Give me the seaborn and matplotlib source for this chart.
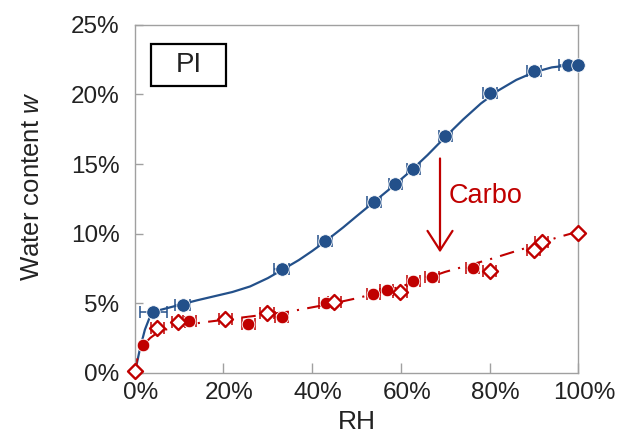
import numpy as np
import seaborn as sns
import matplotlib
matplotlib.use("Agg")
import matplotlib.pyplot as plt
import matplotlib.transforms as mtrans
from matplotlib.patches import Rectangle
from matplotlib.ticker import PercentFormatter

# measured points, PI (blue) and Carbo (red), RH and w in %
pi_rh = [4.2, 10.8, 33.1, 42.9, 53.9, 58.7, 62.8, 70.0, 80.0, 90.0, 97.7, 99.8]
pi_w = [4.35, 4.87, 7.42, 9.5, 12.25, 13.6, 14.65, 17.05, 20.1, 21.7, 22.1, 22.1]
pi_err = [3.0, 1.7, 1.7, 1.5, 1.5, 1.5, 1.5, 1.5, 1.6, 1.6, 2.0, 0.0]

carbo_a_rh = [1.8, 12.3, 25.6, 33.1, 43.0, 53.8, 56.8, 62.8, 67.0, 76.2]
carbo_a_w = [2.0, 3.74, 3.5, 3.98, 5.0, 5.64, 5.95, 6.62, 6.9, 7.53]
carbo_a_err = [0.0, 1.5, 1.5, 1.5, 1.5, 1.5, 1.5, 1.5, 1.5, 1.5]

carbo_b_rh = [0.0, 5.1, 9.8, 20.4, 29.8, 45.0, 59.8, 80.0, 89.9, 91.7, 100.0]
carbo_b_w = [0.15, 3.19, 3.67, 3.84, 4.27, 5.1, 5.83, 7.33, 8.85, 9.4, 10.05]
carbo_b_err = [0.0, 1.5, 1.5, 1.5, 1.5, 1.5, 1.5, 1.5, 1.5, 1.5, 0.0]

# fitted curves
pi_fit_rh = [0, 0.5, 1.2, 2.3, 3.4, 5, 8, 11, 14, 18, 22, 26, 30, 33, 37, 40, 43,
             47, 50, 54, 58, 62, 66, 70, 74, 78, 82, 86, 90, 94, 98, 100]
pi_fit_w = [0, 0.7, 1.75, 3.1, 4.0, 4.45, 4.7, 4.95, 5.2, 5.5, 5.8, 6.2, 6.8, 7.35,
            8.1, 8.75, 9.45, 10.45, 11.25, 12.3, 13.35, 14.45, 15.65, 16.95, 18.2,
            19.35, 20.3, 21.05, 21.6, 21.95, 22.1, 22.15]
carbo_fit_rh = [0, 0.5, 1, 2, 3.5, 5, 7, 10, 15, 20, 25, 30, 35, 40, 45, 50, 55,
                60, 65, 70, 75, 80, 85, 90, 95, 100]
carbo_fit_w = [0, 0.9, 1.4, 2.0, 2.5, 2.85, 3.1, 3.35, 3.6, 3.8, 4.0, 4.2, 4.4, 4.7,
               5.0, 5.35, 5.75, 6.2, 6.7, 7.25, 7.7, 8.15, 8.65, 9.15, 9.7, 10.15]

blue = "#23508a"
red = "#c00000"

sns.set_theme(style="white")
plt.rcParams["font.family"] = ["Liberation Sans", "DejaVu Sans"]
plt.rcParams["mathtext.fontset"] = "custom"
plt.rcParams["mathtext.it"] = "Liberation Sans:italic"
plt.rcParams["mathtext.rm"] = "Liberation Sans"

fig = plt.figure(figsize=(6.18, 4.43), dpi=100)
ax = fig.add_axes([0.218, 0.1587, 0.718, 0.785])

sns.lineplot(x=pi_fit_rh, y=pi_fit_w, ax=ax, color=blue, linewidth=1.6, zorder=2)
sns.lineplot(x=carbo_fit_rh, y=carbo_fit_w, ax=ax, color=red, linewidth=1.5,
             dashes=False, zorder=2).lines[-1].set_dashes((7, 4, 1, 4))

ax.errorbar(pi_rh, pi_w, xerr=pi_err, fmt="none", ecolor=blue, elinewidth=1.1,
            capsize=4.5, capthick=1.1, zorder=3)
ax.errorbar(carbo_a_rh, carbo_a_w, xerr=carbo_a_err, fmt="none", ecolor=red,
            elinewidth=1.1, capsize=4.5, capthick=1.1, zorder=3)
ax.errorbar(carbo_b_rh, carbo_b_w, xerr=carbo_b_err, fmt="none", ecolor=red,
            elinewidth=1.1, capsize=4.5, capthick=1.1, zorder=3)

sns.scatterplot(x=pi_rh, y=pi_w, ax=ax, color=blue, s=95, edgecolor="white",
                linewidth=0.6, zorder=4, clip_on=False)
sns.scatterplot(x=carbo_a_rh, y=carbo_a_w, ax=ax, color=red, s=82, edgecolor="white",
                linewidth=0.6, zorder=4, clip_on=False)
sns.scatterplot(x=carbo_b_rh, y=carbo_b_w, ax=ax, marker="D", s=58, facecolor="white",
                edgecolor=red, linewidth=1.7, zorder=5, clip_on=False)

ax.set_xlim(0, 100)
ax.set_ylim(0, 25)
ax.set_xticks([0, 20, 40, 60, 80, 100])
ax.set_yticks([0, 5, 10, 15, 20, 25])
ax.xaxis.set_major_formatter(PercentFormatter(100, decimals=0))
ax.yaxis.set_major_formatter(PercentFormatter(100, decimals=0))
ax.tick_params(axis="x", direction="in", length=7, width=1, color="#a0a0a0",
               labelsize=17.5, labelcolor="#222222", pad=7, top=False, bottom=True)
ax.tick_params(axis="y", direction="in", length=6, width=1, color="#a0a0a0",
               labelsize=17.5, labelcolor="#222222", pad=11, left=True, right=False)
for s in ax.spines.values():
    s.set_color("#a0a0a0")
    s.set_linewidth(1.0)

# x tick labels sit a little right of their ticks in the original
shift = mtrans.ScaledTranslation(0.06, 0, fig.dpi_scale_trans)
for lab in ax.get_xticklabels():
    lab.set_transform(lab.get_transform() + shift)

ax.set_xlabel("RH", fontsize=19, color="#222222", labelpad=4)
ax.set_ylabel("Water content $\\mathit{w}$", fontsize=18.5, color="#222222")
ax.yaxis.set_label_coords(-0.205, 0.535)

ax.add_patch(Rectangle((0.037, 0.825), 0.169, 0.12, transform=ax.transAxes,
                       fill=False, edgecolor="black", linewidth=1.6, zorder=6))
ax.text(0.121, 0.885, "PI", transform=ax.transAxes, ha="center", va="center",
        fontsize=20, color="#222222")

ax.annotate("", xy=(68.8, 8.45), xytext=(68.8, 15.6),
            arrowprops=dict(arrowstyle="->,head_length=0.7,head_width=0.45",
                            color=red, lw=1.6, mutation_scale=20))
ax.text(70.8, 12.7, "Carbo", ha="left", va="center", fontsize=19.5, color=red)

fig.savefig("out.png", dpi=100)
